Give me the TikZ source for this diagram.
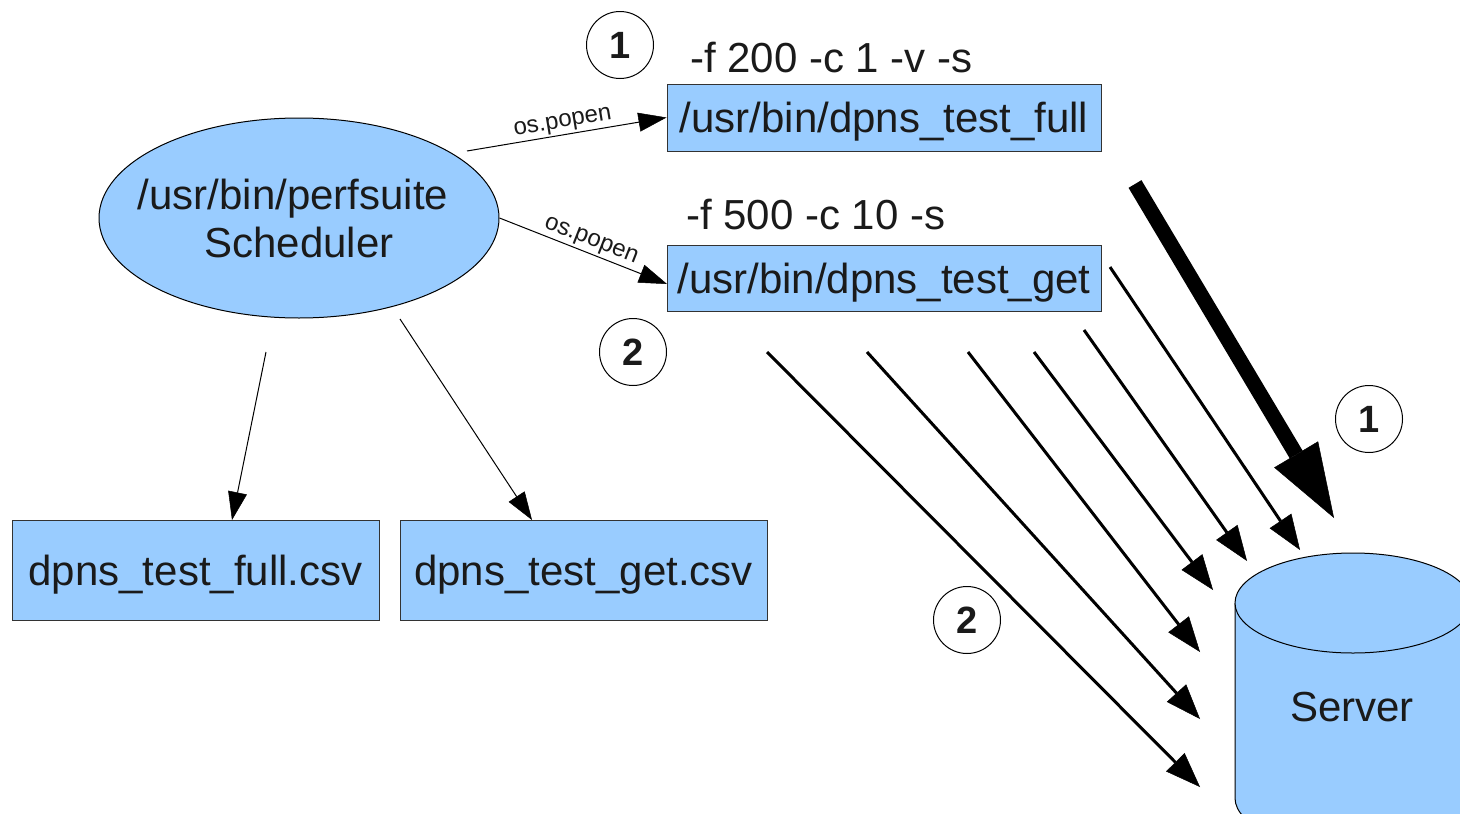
\documentclass[tikz,border=0pt]{standalone}
\usepackage{fontspec}
\setmainfont{Liberation Sans}
\usetikzlibrary{arrows.meta,shapes.geometric}
\definecolor{boxfill}{HTML}{99CCFF}
\definecolor{txt}{HTML}{1A1A1A}
\definecolor{edge}{HTML}{333333}
\begin{document}
\begin{tikzpicture}[x=1pt,y=-1pt,
  big/.style={font=\fontsize{42}{48}\selectfont, text=txt},
  box/.style={draw=edge, line width=1pt, fill=boxfill, inner sep=0pt, text depth=0pt, big},
  num/.style={circle, draw=black, line width=1pt, minimum size=67pt, inner sep=0pt, font=\fontsize{38}{38}\selectfont\bfseries, text=txt},
  thinarrow/.style={line width=1pt, -{Triangle[length=28pt,width=19pt,line width=0.5pt]}},
  medarrow/.style={line width=3pt, -{Triangle[length=35pt,width=26pt,line width=0.5pt]}},
  thickarrow/.style={line width=15pt, -{Triangle[length=74pt,width=51pt,line width=0.5pt]}},
  popen/.style={font=\fontsize{24}{24}\selectfont, text=txt, inner sep=2pt, anchor=south, sloped}]
\useasboundingbox (0,0) rectangle (1460,814);

% Scheduler
\node[ellipse, draw=black, line width=1pt, fill=boxfill, minimum width=400pt, minimum height=200pt, inner sep=0pt, big, align=center] (sched) at (299,218) {\makebox[0pt]{/usr/bin/perfsuite\hspace*{12pt}}\\\makebox[0pt]{Scheduler}};

% program boxes
\node[box, minimum width=434pt, minimum height=67pt] (full) at (884,117.5) {/usr/bin/dpns\_test\_full};
\node[box, minimum width=434pt, minimum height=66pt] (get) at (884,278) {/usr/bin/dpns\_test\_get};
\node[big, anchor=base west, inner sep=0pt] (optfull) at (690,72) {-f 200 -c 1 -v -s};
\node[big, anchor=base west, inner sep=0pt] (optget) at (686,229) {-f 500 -c 10 -s};

% csv boxes
\node[box, minimum width=367pt, minimum height=100pt] (csvfull) at (195.5,570) {dpns\_test\_full.csv};
\node[box, minimum width=367pt, minimum height=100pt] (csvget) at (583.5,570) {dpns\_test\_get.csv};

% numbered circles
\node[num] (c1a) at (620,45) {1};
\node[num] (c2a) at (633,352) {2};
\node[num] (c1b) at (1369,419) {1};
\node[num] (c2b) at (967,620) {2};

% server cylinder
\begin{scope}
\clip (0,0) rectangle (1460,814);
\fill[boxfill] (1235,603) -- (1235,798) arc[start angle=180, end angle=0, x radius=118, y radius=50] -- (1471,603) -- cycle;
\draw[line width=1pt, draw=black] (1235,603) -- (1235,798) arc[start angle=180, end angle=0, x radius=118, y radius=50] -- (1471,603);
\draw[line width=1pt, draw=black, fill=boxfill] (1353,603) ellipse[x radius=118, y radius=50];
\end{scope}
\node[big] (server) at (1352,707) {Server};

% connectors from scheduler
\coordinate (p1) at (467,151);
\coordinate (g1) at (667,284);
\draw[thinarrow] (p1) -- (full.west) node[popen, pos=0.49] {os.popen};
\draw[thinarrow] (sched.east) -- (g1) node[popen, pos=0.52] {os.popen};
\coordinate (s1) at (266,352);
\coordinate (f1) at (232,520);
\coordinate (s2) at (400,319);
\coordinate (f2) at (532,520);
\draw[thinarrow] (s1) -- (f1);
\draw[thinarrow] (s2) -- (f2);

% traffic to server
\coordinate (a1) at (767,352);  \coordinate (b1) at (1200,787);
\coordinate (a2) at (867,352);  \coordinate (b2) at (1200,719);
\coordinate (a3) at (968,352);  \coordinate (b3) at (1200,652);
\coordinate (a4) at (1034,352); \coordinate (b4) at (1213,590);
\coordinate (a5) at (1084,330); \coordinate (b5) at (1247,561);
\coordinate (a6) at (1110,267); \coordinate (b6) at (1300,550);
\coordinate (a7) at (1135,184); \coordinate (b7) at (1334,518);
\foreach \i in {1,...,6} {\draw[medarrow] (a\i) -- (b\i);}
\draw[thickarrow] (a7) -- (b7);
\end{tikzpicture}
\end{document}
